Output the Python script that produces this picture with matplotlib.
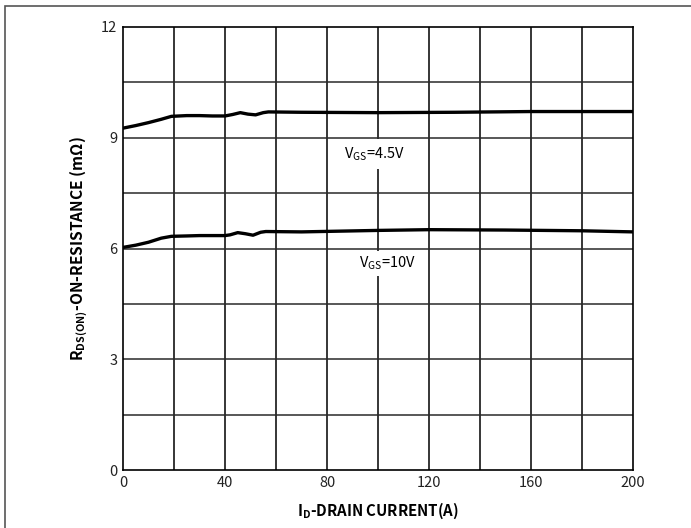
import matplotlib.pyplot as plt
import matplotlib.patches as patches

plt.rcParams['font.family'] = ['Noto Sans CJK SC', 'DejaVu Sans']
plt.rcParams['mathtext.fontset'] = 'custom'
plt.rcParams['mathtext.rm'] = 'Noto Sans CJK SC'

# drain current (A) vs on-resistance (mOhm)
x45 = [0, 5, 10, 15, 19, 25, 30, 35, 40, 43, 46, 49, 52, 55, 57, 70, 100, 130, 160, 200]
y45 = [9.26, 9.33, 9.41, 9.50, 9.58, 9.60, 9.60, 9.59, 9.59, 9.63, 9.68, 9.64, 9.62, 9.68, 9.70,
       9.69, 9.68, 9.69, 9.71, 9.71]
x10 = [0, 5, 10, 15, 19, 25, 30, 35, 40, 42, 45, 48, 51, 54, 56, 70, 100, 120, 150, 180, 200]
y10 = [6.03, 6.09, 6.17, 6.28, 6.33, 6.34, 6.35, 6.35, 6.35, 6.37, 6.43, 6.40, 6.36, 6.44, 6.46,
       6.45, 6.49, 6.51, 6.50, 6.48, 6.45]

xTicks = [0, 40, 80, 120, 160, 200]
yTicks = [0, 3, 6, 9, 12]

fig = plt.figure(figsize=(6.91, 5.28), dpi=100)
ax = fig.add_axes([123/691, 58/528, 510/691, 443/528])

for gx in range(20, 200, 20):
    ax.axvline(gx, color='black', lw=1.1, zorder=1)
for gy in [1.5, 3, 4.5, 6, 7.5, 9, 10.5]:
    ax.axhline(gy, color='#2a2a2a', lw=1.1, zorder=1)

ax.plot(x45, y45, color='black', lw=2.4, zorder=3)
ax.plot(x10, y10, color='black', lw=2.4, zorder=3)

ax.text(86.5, 8.55, r'V$_{\mathregular{GS}}$=4.5V', fontsize=10.5, va='center', ha='left', zorder=4,
        bbox=dict(facecolor='white', edgecolor='none', pad=4.5))
ax.text(92.5, 5.6, r'V$_{\mathregular{GS}}$=10V', fontsize=10.5, va='center', ha='left', zorder=4,
        bbox=dict(facecolor='white', edgecolor='none', boxstyle='square,pad=0.25'))

ax.set_xlim(0, 200)
ax.set_ylim(0, 12)
ax.set_xticks(xTicks)
ax.set_yticks(yTicks)
ax.tick_params(length=0, labelsize=10.5, pad=4, colors='#222222')
for s in ax.spines.values():
    s.set_linewidth(1.2)

ax.set_xlabel(r'I$_{\mathregular{D}}$-DRAIN CURRENT(A)', fontsize=10.8, fontweight='bold', labelpad=8)
ax.set_ylabel(r'R$_{\mathregular{DS(ON)}}$-ON-RESISTANCE (m$\mathregular{\Omega}$)', fontsize=11.2,
              fontweight='bold', labelpad=8)

fig.patches.append(patches.Rectangle((5/691, -0.1), 1.2, 1.1 - 6/528, transform=fig.transFigure,
                                     fill=False, edgecolor='#555555', lw=1.2))

plt.savefig('out.png', dpi=100)
